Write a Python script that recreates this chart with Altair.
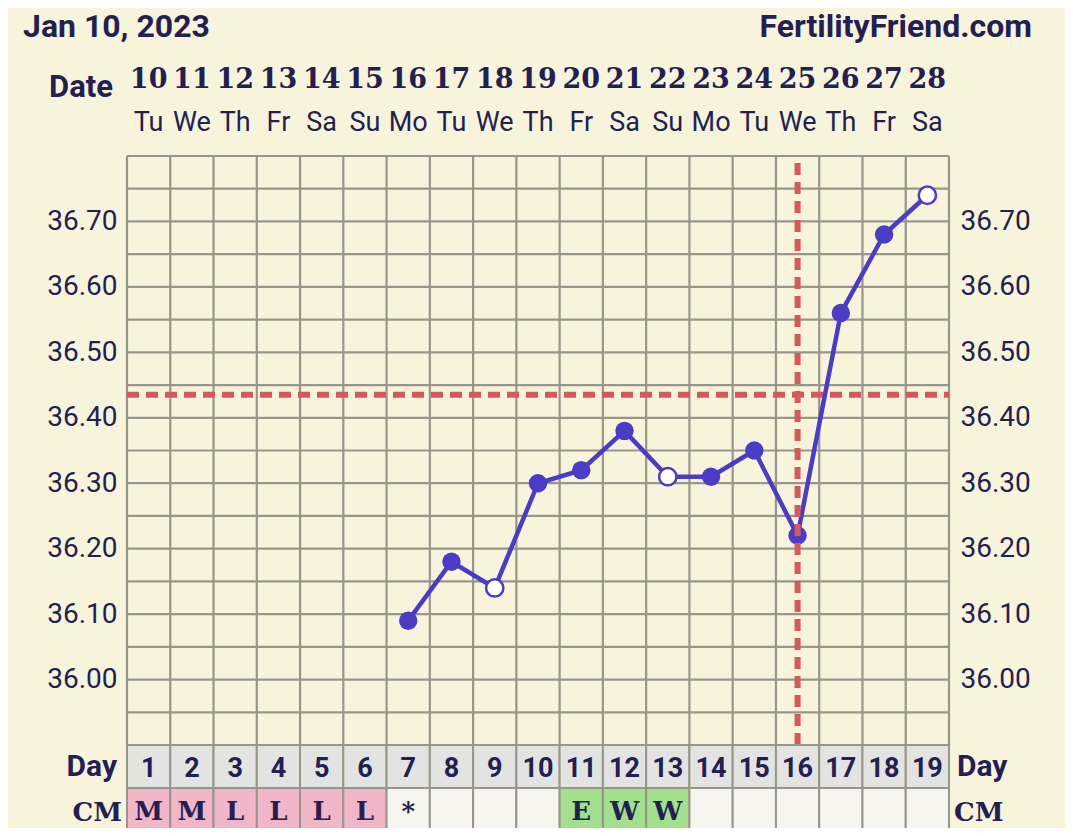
import altair as alt
import pandas as pd

# ---- data ----
days = list(range(1, 20))
dates = [10, 11, 12, 13, 14, 15, 16, 17, 18, 19, 20, 21, 22, 23, 24, 25, 26, 27, 28]
weekdays = ["Tu", "We", "Th", "Fr", "Sa", "Su", "Mo", "Tu", "We", "Th",
            "Fr", "Sa", "Su", "Mo", "Tu", "We", "Th", "Fr", "Sa"]
temp_days = [7, 8, 9, 10, 11, 12, 13, 14, 15, 16, 17, 18, 19]
temps = [36.09, 36.18, 36.14, 36.30, 36.32, 36.38, 36.31, 36.31, 36.35, 36.22, 36.56, 36.68, 36.74]
open_days = [9, 13, 19]
cm = ["M", "M", "L", "L", "L", "L", "*", "", "", "", "E", "W", "W", "", "", "", "", "", ""]
coverline = 36.435
ovulation_day = 16
y_labels = [36.0, 36.1, 36.2, 36.3, 36.4, 36.5, 36.6, 36.7]
y_min, y_max = 35.9, 36.8
title_left = "Jan 10, 2023"
title_right = "FertilityFriend.com"

# ---- style ----
BG = "#f8f4dc"
GRID = "#979689"
INK = "#231f52"
LINE = "#4a3cc4"
RED = "#d6585a"
PINK = "#f2b6c9"
GREEN = "#a3e08e"
DAYROW = "#e3e3e1"
EMPTY = "#f7f6ee"
W, H = 822, 589

xs = alt.Scale(domain=[0.5, 19.5], nice=False, zero=False)
ys = alt.Scale(domain=[y_min, y_max], nice=False, zero=False)

# grid data
vgrid = pd.DataFrame({"x": [d + 0.5 for d in [0] + days]})
hgrid = pd.DataFrame({"y": [round(y_min + 0.05 * i, 2) for i in range(19)]})
vgrid["y0"], vgrid["y1"] = y_min, y_max
hgrid["x0"], hgrid["x1"] = 0.5, 19.5

temp_df = pd.DataFrame({"day": temp_days, "temp": temps})
temp_df["open"] = temp_df["day"].isin(open_days)

def cm_fill(c):
    if c in ("M", "L"):
        return PINK
    if c in ("E", "W"):
        return GREEN
    return EMPTY

cols = pd.DataFrame({"day": days, "date": dates, "wd": weekdays, "cm": cm})
cols["x0"] = cols["day"] - 0.5
cols["x1"] = cols["day"] + 0.5
cols["fill"] = [cm_fill(c) for c in cm]
cols["daylabel"] = cols["day"].astype(str)
cols["datelabel"] = cols["date"].astype(str)

X = lambda f: alt.X(f, type="quantitative", scale=xs, axis=None)
Y = lambda f: alt.Y(f, type="quantitative", scale=ys, axis=None)

vg = alt.Chart(vgrid).mark_rule(color=GRID, strokeWidth=2.2).encode(
    x=X("x"), y=Y("y0"), y2="y1")
hg = alt.Chart(hgrid).mark_rule(color=GRID, strokeWidth=2.2).encode(
    y=Y("y"), x=X("x0"), x2="x1")

cover = alt.Chart(pd.DataFrame({"y": [coverline], "x0": [0.5], "x1": [19.5]})).mark_rule(
    color=RED, strokeWidth=6, strokeDash=[12, 7]).encode(y=Y("y"), x=X("x0"), x2="x1")
ovu = alt.Chart(pd.DataFrame({"x": [ovulation_day], "y0": [y_min], "y1": [y_max]})).mark_rule(
    color=RED, strokeWidth=6, strokeDash=[12, 7]).encode(x=X("x"), y=Y("y0"), y2="y1")

line = alt.Chart(temp_df).mark_line(color=LINE, strokeWidth=4.5).encode(
    x=X("day"),
    y=alt.Y("temp:Q", scale=ys,
            axis=alt.Axis(orient="left", values=y_labels, format=".2f", grid=False,
                          ticks=False, domain=False, labelFont="Roboto", labelFontSize=28,
                          labelColor=INK, labelPadding=10, title=None)))
pts_filled = alt.Chart(temp_df[~temp_df["open"]]).mark_circle(
    color=LINE, opacity=1, size=340).encode(
    x=X("day"),
    y=alt.Y("temp:Q", scale=ys,
            axis=alt.Axis(orient="right", values=y_labels, format=".2f", grid=False,
                          ticks=False, domain=False, labelFont="Roboto", labelFontSize=28,
                          labelColor=INK, labelPadding=11, title=None)))
pts_open = alt.Chart(temp_df[temp_df["open"]]).mark_point(
    shape="circle", filled=True, fill="white", stroke=LINE, strokeWidth=2.5,
    opacity=1, size=300).encode(x=X("day"), y=Y("temp"))

# header texts
hdr_left = alt.Chart(pd.DataFrame({"t": [title_left]})).mark_text(
    font="Roboto", fontWeight="bold", fontSize=32, color=INK, align="left",
    baseline="alphabetic").encode(text="t:N", x=alt.value(-104), y=alt.value(-119))
hdr_right = alt.Chart(pd.DataFrame({"t": [title_right]})).mark_text(
    font="Roboto", fontWeight="bold", fontSize=32, color=INK, align="right",
    baseline="alphabetic").encode(text="t:N", x=alt.value(905), y=alt.value(-119))
date_lbl = alt.Chart(pd.DataFrame({"t": ["Date"]})).mark_text(
    font="Roboto", fontWeight="bold", fontSize=31, color=INK, align="right",
    baseline="alphabetic").encode(text="t:N", x=alt.value(-14), y=alt.value(-59))
date_nums = alt.Chart(cols).mark_text(
    font="DejaVu Serif", fontWeight="bold", fontSize=27, color=INK, align="center",
    baseline="alphabetic").encode(text="datelabel:N", x=X("day"), y=alt.value(-68))
wd_text = alt.Chart(cols).mark_text(
    font="Roboto", fontSize=27, color=INK, align="center",
    baseline="alphabetic").encode(text="wd:N", x=X("day"), y=alt.value(-25))

# bottom rows
day_cells = alt.Chart(cols).mark_rect(fill=DAYROW, stroke=GRID, strokeWidth=2).encode(
    x=X("x0"), x2="x1", y=alt.value(H), y2=alt.value(H + 43))
day_nums = alt.Chart(cols).mark_text(
    font="Roboto", fontWeight="bold", fontSize=27, color=INK, align="center",
    baseline="alphabetic").encode(text="daylabel:N", x=X("day"), y=alt.value(H + 32))
day_lbl = alt.Chart(pd.DataFrame({"t": ["Day"]})).mark_text(
    font="Roboto", fontWeight="bold", fontSize=30, color=INK, align="right",
    baseline="alphabetic").encode(text="t:N", x=alt.value(-10), y=alt.value(H + 31))
cm_cells = alt.Chart(cols).mark_rect(stroke=GRID, strokeWidth=2).encode(
    x=X("x0"), x2="x1", y=alt.value(H + 43), y2=alt.value(H + 87),
    fill=alt.Color("fill:N", scale=None))
cm_text = alt.Chart(cols).mark_text(
    font="DejaVu Serif", fontWeight="bold", fontSize=26, color=INK, align="center",
    baseline="alphabetic").encode(text="cm:N", x=X("day"), y=alt.value(H + 75))
cm_lbl = alt.Chart(pd.DataFrame({"t": ["CM"]})).mark_text(
    font="DejaVu Serif", fontWeight="bold", fontSize=26, color=INK, align="right",
    baseline="alphabetic").encode(text="t:N", x=alt.value(-5), y=alt.value(H + 76))
day_lbl_r = alt.Chart(pd.DataFrame({"t": ["Day"]})).mark_text(
    font="Roboto", fontWeight="bold", fontSize=30, color=INK, align="left",
    baseline="alphabetic").encode(text="t:N", x=alt.value(W + 8), y=alt.value(H + 31))
cm_lbl_r = alt.Chart(pd.DataFrame({"t": ["CM"]})).mark_text(
    font="DejaVu Serif", fontWeight="bold", fontSize=26, color=INK, align="left",
    baseline="alphabetic").encode(text="t:N", x=alt.value(W + 5), y=alt.value(H + 76))

chart = alt.layer(
    vg, hg, cover, line, pts_filled, pts_open, ovu,
    hdr_left, hdr_right, date_lbl, date_nums, wd_text,
    day_cells, day_nums, day_lbl, cm_cells, cm_text, cm_lbl, day_lbl_r, cm_lbl_r,
).resolve_axis(y="independent").properties(
    width=W, height=H,
    autosize=alt.AutoSizeParams(type="none"),
    padding={"left": 119, "top": 148, "right": 116, "bottom": 83},
    background=BG,
).configure_view(stroke=None, fill=BG)

chart.save("out.html", embed_options={"renderer": "svg", "actions": False})
